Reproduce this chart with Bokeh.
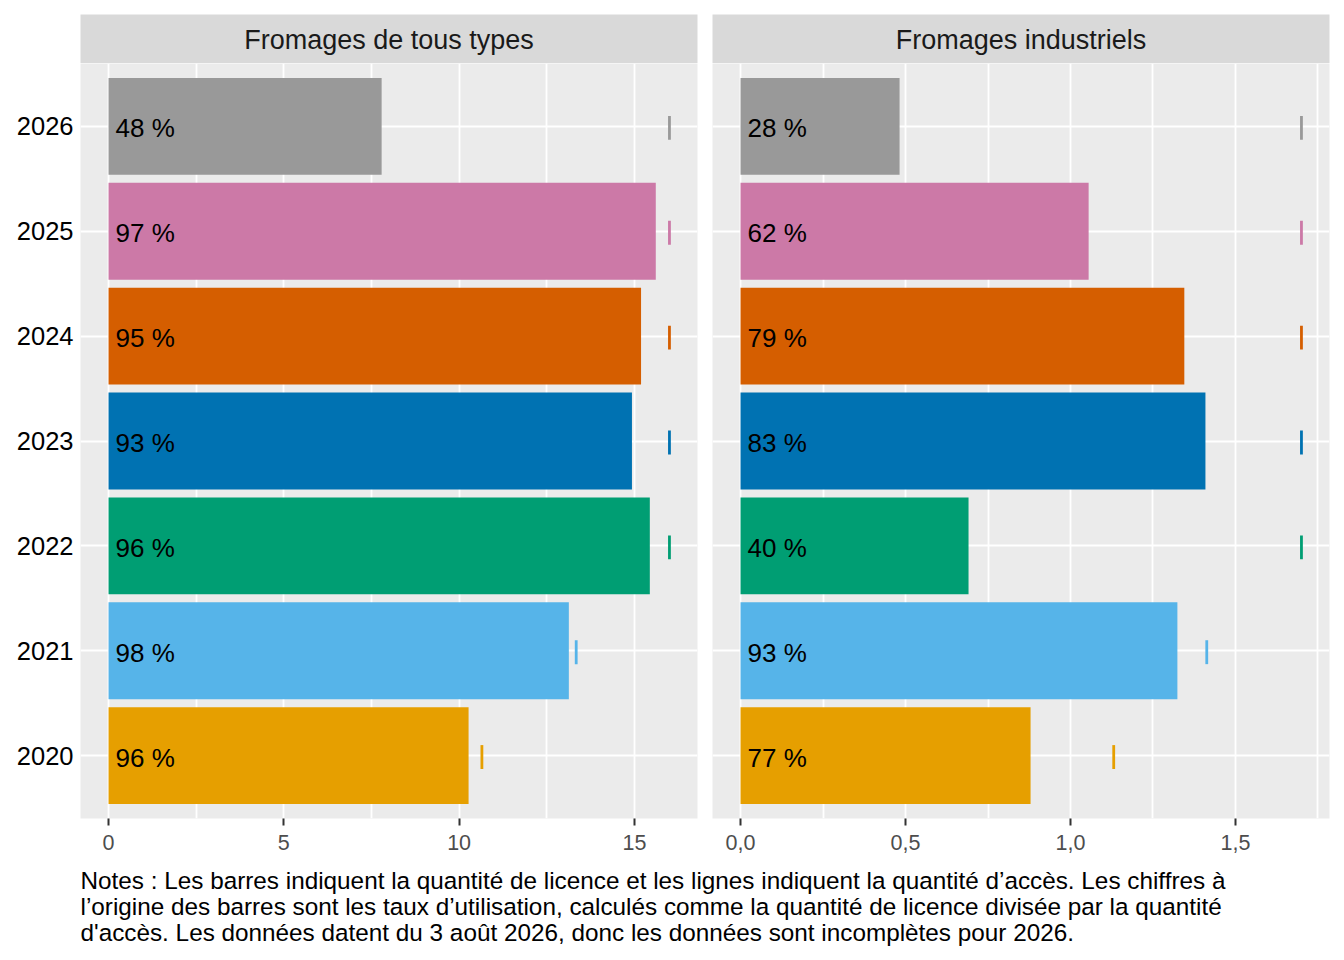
from bokeh.plotting import figure
from bokeh.layouts import row, column
from bokeh.models import Range1d, FixedTicker, Label, ColumnDataSource
from bokeh.core.properties import value
from bokeh.embed import file_html
from bokeh.resources import INLINE

# ---------------- data ----------------
years = ["2020", "2021", "2022", "2023", "2024", "2025", "2026"]
year_colors = ["#E69F00", "#56B4E9", "#009E73", "#0072B2", "#D55E00", "#CC79A7", "#999999"]

all_licence = [10.27, 13.13, 15.44, 14.93, 15.19, 15.61, 7.79]
all_access = [10.65, 13.34, 16.0, 16.0, 16.0, 16.0, 16.0]
all_rates = ["96 %", "98 %", "96 %", "93 %", "95 %", "97 %", "48 %"]

ind_licence = [0.879, 1.324, 0.691, 1.409, 1.345, 1.055, 0.482]
ind_access = [1.131, 1.413, 1.70, 1.70, 1.70, 1.70, 1.70]
ind_rates = ["77 %", "93 %", "40 %", "83 %", "79 %", "62 %", "28 %"]

facet_titles = ["Fromages de tous types", "Fromages industriels"]

all_ticks = [0, 5, 10, 15]
all_minor = [2.5, 7.5, 12.5]
all_tick_labels = ["0", "5", "10", "15"]
ind_ticks = [0, 0.5, 1.0, 1.5]
ind_minor = [0.25, 0.75, 1.25, 1.75]
ind_tick_labels = ["0,0", "0,5", "1,0", "1,5"]

notes_lines = [
    "Notes : Les barres indiquent la quantité de licence et les lignes indiquent la quantité d’accès. Les chiffres à",
    "l’origine des barres sont les taux d’utilisation, calculés comme la quantité de licence divisée par la quantité",
    "d'accès. Les données datent du 3 août 2026, donc les données sont incomplètes pour 2026.",
]

FONT = "Liberation Sans"
PANEL_BG = "#EBEBEB"
STRIP_BG = "#D9D9D9"
FRAME_W = 617
FRAME_H = 755
STRIP_H = 49
LEFT1, RIGHT1, LEFT2, RIGHT2 = 80, 7, 8, 2


def make_strip(title, left, right):
    s = figure(frame_width=FRAME_W, frame_height=STRIP_H,
               x_range=Range1d(0, 1), y_range=Range1d(0, STRIP_H),
               x_axis_location=None, y_axis_location=None,
               output_backend="svg", toolbar_location=None, title=None,
               min_border_left=left, min_border_right=right,
               min_border_top=14, min_border_bottom=0)
    s.grid.visible = False
    s.background_fill_color = STRIP_BG
    s.border_fill_color = "white"
    s.outline_line_color = None
    s.add_layout(Label(x=0.5, y=23.5, text=title, text_align="center",
                       text_baseline="middle", text_font=FONT,
                       text_font_size="27px", text_color="#1A1A1A"))
    return s


def make_panel(licence, access, rates, ticks, minor, tick_labels, left, right, show_y):
    ypos = list(range(1, len(years) + 1))
    m = max(access)
    p = figure(frame_width=FRAME_W, frame_height=FRAME_H,
               x_range=Range1d(-0.05 * m, 1.05 * m),
               y_range=Range1d(0.4, len(years) + 0.6),
               output_backend="svg", toolbar_location=None, title=None,
               min_border_left=left, min_border_right=right,
               min_border_top=0, min_border_bottom=50)
    p.background_fill_color = PANEL_BG
    p.border_fill_color = "white"
    p.outline_line_color = None

    src = ColumnDataSource(dict(y=ypos, licence=licence, access=access,
                                lo=[v - 0.128 for v in ypos],
                                hi=[v + 0.10 for v in ypos],
                                rate=rates, color=year_colors))
    p.hbar(y="y", left=0, right="licence", height=0.924, source=src,
           fill_color="color", line_color=None)
    p.segment(x0="access", x1="access", y0="lo", y1="hi", source=src,
              line_color="color", line_width=2.8)
    p.text(x=0, y="y", text="rate", source=src, x_offset=7, y_offset=2,
           text_align="left", text_baseline="middle",
           text_font=value(FONT), text_font_size="26px", text_color="black")

    # x axis
    p.xaxis.ticker = FixedTicker(ticks=ticks, minor_ticks=minor)
    p.xaxis.major_label_overrides = dict(zip(ticks, tick_labels))
    p.xaxis.axis_line_color = None
    p.xaxis.major_tick_line_color = "#333333"
    p.xaxis.major_tick_line_width = 2
    p.xaxis.major_tick_out = 7
    p.xaxis.major_tick_in = 0
    p.xaxis.minor_tick_line_color = None
    p.xaxis.major_label_standoff = 9
    p.xaxis.major_label_text_font = FONT
    p.xaxis.major_label_text_font_size = "21.5px"
    p.xaxis.major_label_text_color = "#4D4D4D"

    # y axis
    p.yaxis.ticker = FixedTicker(ticks=ypos)
    p.yaxis.major_label_overrides = dict(zip(ypos, years))
    p.yaxis.axis_line_color = None
    p.yaxis.major_tick_line_color = None
    p.yaxis.major_tick_out = 0
    p.yaxis.major_tick_in = 0
    p.yaxis.minor_tick_line_color = None
    p.yaxis.major_label_standoff = 7
    p.yaxis.major_label_text_font = FONT
    p.yaxis.major_label_text_font_size = "25.5px"
    p.yaxis.major_label_text_color = "black"
    if not show_y:
        p.yaxis.visible = False

    # grids
    p.xgrid.grid_line_color = "white"
    p.xgrid.grid_line_width = 1.8
    p.xgrid.minor_grid_line_color = "white"
    p.xgrid.minor_grid_line_width = 1.8
    p.ygrid.grid_line_color = "white"
    p.ygrid.grid_line_width = 1.8
    return p


s1 = make_strip(facet_titles[0], LEFT1, RIGHT1)
s2 = make_strip(facet_titles[1], LEFT2, RIGHT2)
p1 = make_panel(all_licence, all_access, all_rates, all_ticks, all_minor,
                all_tick_labels, LEFT1, RIGHT1, True)
p2 = make_panel(ind_licence, ind_access, ind_rates, ind_ticks, ind_minor,
                ind_tick_labels, LEFT2, RIGHT2, False)

NOTES_W = LEFT1 + FRAME_W + RIGHT1 + LEFT2 + FRAME_W + RIGHT2
NOTES_H = 88
notes = figure(frame_width=NOTES_W, frame_height=NOTES_H,
               x_range=Range1d(0, NOTES_W), y_range=Range1d(NOTES_H, 0),
               x_axis_location=None, y_axis_location=None,
               output_backend="svg", toolbar_location=None, title=None,
               min_border_left=0, min_border_right=0,
               min_border_top=0, min_border_bottom=0)
notes.grid.visible = False
notes.background_fill_color = "white"
notes.border_fill_color = "white"
notes.outline_line_color = None
for i, line in enumerate(notes_lines):
    notes.add_layout(Label(x=80, y=12.3 + 26 * i, text=line, text_align="left",
                           text_baseline="alphabetic", text_font=FONT,
                           text_font_size="24.3px", text_color="black"))

layout = column(row(column(s1, p1), column(s2, p2)), notes)

open("out.html", "w").write(file_html(layout, INLINE))
